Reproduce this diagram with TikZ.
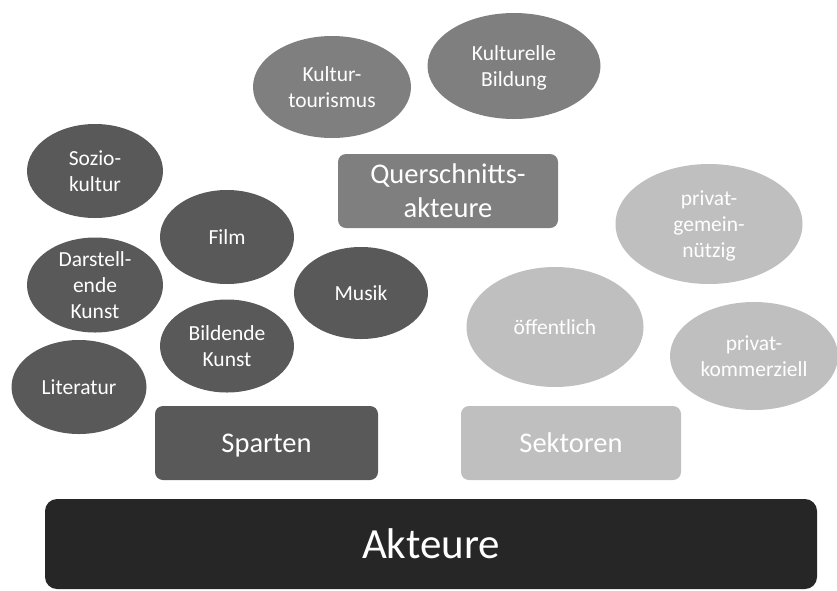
\documentclass[tikz,border=0pt]{standalone}
\usepackage{fontspec}
\setmainfont{Carlito}
\usetikzlibrary{shapes.geometric}
\definecolor{darkg}{HTML}{595959}
\definecolor{midg}{HTML}{7F7F7F}
\definecolor{lightg}{HTML}{BFBFBF}
\definecolor{blackg}{HTML}{262626}
\tikzset{
  ell/.style={ellipse, inner sep=0pt, text=white, align=center, text depth=0pt, font=\fontsize{21.5}{26}\selectfont},
  dark/.style={fill=darkg},
  mid/.style={fill=midg},
  light/.style={fill=lightg},
  box/.style={rectangle, rounded corners=8pt, inner sep=0pt, text=white, align=center, text depth=0pt, font=\fontsize{28.5}{34}\selectfont},
}
\begin{document}
\begin{tikzpicture}[x=1pt,y=-1pt]
\useasboundingbox (0,0) rectangle (837,590);
% Querschnitt
\node[ell, mid, minimum width=158pt, minimum height=102pt] (kt) at (332,87) {Kultur-\\tourismus};
\node[ell, mid, minimum width=173pt, minimum height=106pt] (kb) at (514,66) {Kulturelle\\Bildung};
\node[box, mid, minimum width=220pt, minimum height=74pt] (qa) at (448,191) {Querschnitts-\\akteure};
% Sparten
\node[ell, dark, minimum width=136pt, minimum height=94pt] (sk) at (95,171) {Sozio-\\kultur};
\node[ell, dark, minimum width=134pt, minimum height=94pt] (fi) at (227,237) {Film};
\node[ell, dark, minimum width=136pt, minimum height=95pt] (dk) at (95,285) {Darstell-\\ende\\Kunst};
\node[ell, dark, minimum width=134pt, minimum height=92pt] (mu) at (361,293) {Musik};
\node[ell, dark, minimum width=134pt, minimum height=93pt] (bk) at (227,346) {Bildende\\Kunst};
\node[ell, dark, minimum width=135pt, minimum height=94pt] (li) at (79,387) {Literatur};
\node[box, dark, minimum width=223pt, minimum height=74pt] (sp) at (266.5,443) {Sparten};
% Sektoren
\node[ell, light, minimum width=187pt, minimum height=120pt] (pg) at (709,224) {privat-\\gemein-\\nützig};
\node[ell, light, minimum width=177pt, minimum height=120pt] (of) at (555,327) {öffentlich};
\node[ell, light, minimum width=168pt, minimum height=108pt] (pk) at (754,356) {privat-\\kommerziell};
\node[box, light, minimum width=220pt, minimum height=74pt] (se) at (571,443) {Sektoren};
% Akteure
\node[box, fill=blackg, rounded corners=12pt, minimum width=772pt, minimum height=90pt, font=\fontsize{43}{50}\selectfont] (ak) at (431,544) {Akteure};
\end{tikzpicture}
\end{document}
